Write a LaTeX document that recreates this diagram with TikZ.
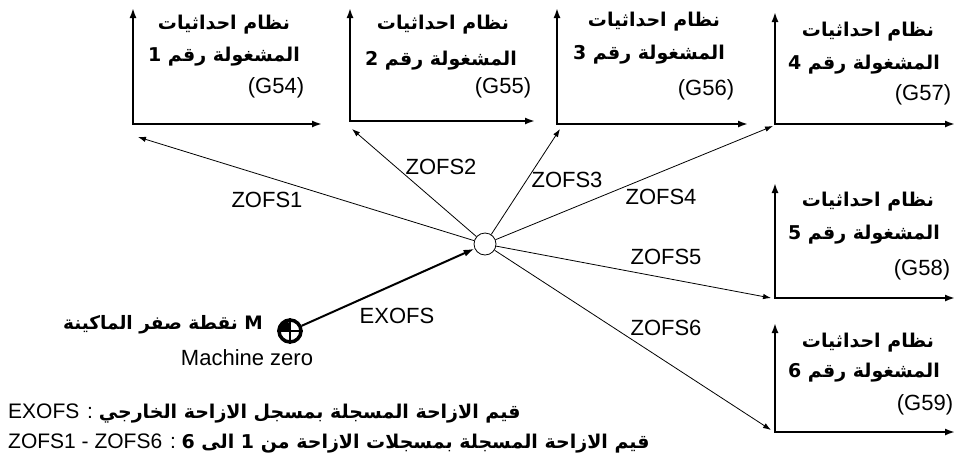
\documentclass[tikz,border=0pt]{standalone}
\usepackage{fontspec}
\setmainfont{Liberation Sans}
\newfontfamily\arabicfont[Script=Arabic]{DejaVu Sans}
\TeXXeTstate=1
\usetikzlibrary{arrows.meta}
\tikzset{
    every picture/.style={line join=miter},
    axes/.style={{Latex[length=10pt,width=7pt]}-{Latex[length=10pt,width=7pt]},
      line width=1.8pt},
    offset/.style={-{Latex[length=8pt,width=5.5pt]},line width=0.8pt},
    extoffset/.style={-{Latex[length=11pt,width=7pt]},line width=2pt},
    hub/.style={circle,draw,line width=0.8pt,fill=white,minimum size=22pt,
      inner sep=0pt},
    zeromark/.style={circle,draw,line width=3.5pt,minimum size=22pt,inner sep=0pt},
    wcstitle/.style={font=\arabicfont\bfseries\fontsize{19}{22}\selectfont,
      inner sep=0pt},
    gcode/.style={font=\fontsize{22}{26}\selectfont,inner sep=0pt},
    offlabel/.style={font=\fontsize{22}{26}\selectfont,inner sep=0pt},
    notetext/.style={font=\fontsize{21}{24}\selectfont,inner sep=0pt,anchor=west}
}

\begin{document}
\begin{tikzpicture}[x=1pt,y=-1pt]
  \useasboundingbox (0,0) rectangle (957,464);

  % workpiece frames
  \draw[axes] (133,8) |- (322,124);   \coordinate (o1) at (138,137);
  \draw[axes] (350,8) |- (535,121);   \coordinate (o2) at (352,129);
  \draw[axes] (557,8) |- (748,124);   \coordinate (o3) at (560,129);
  \draw[axes] (775,12) |- (955,124);  \coordinate (o4) at (773,126);
  \draw[axes] (775,183) |- (955,298); \coordinate (o5) at (771,298);
  \draw[axes] (775,323) |- (955,432); \coordinate (o6) at (771,430);

  \node[wcstitle] (t1a) at (224,25) {\beginR نظام احداثيات\endR};
  \node[wcstitle] (t1b) at (224,57) {\beginR المشغولة رقم 1\endR};
  \node[gcode] (g1) at (276,88) {(G54)};
  \node[wcstitle] (t2a) at (443,25) {\beginR نظام احداثيات\endR};
  \node[wcstitle] (t2b) at (441,61) {\beginR المشغولة رقم 2\endR};
  \node[gcode] (g2) at (503,88) {(G55)};
  \node[wcstitle] (t3a) at (654,22) {\beginR نظام احداثيات\endR};
  \node[wcstitle] (t3b) at (649,55) {\beginR المشغولة رقم 3\endR};
  \node[gcode] (g3) at (706,90) {(G56)};
  \node[wcstitle] (t4a) at (868,32) {\beginR نظام احداثيات\endR};
  \node[wcstitle] (t4b) at (864,65) {\beginR المشغولة رقم 4\endR};
  \node[gcode] (g4) at (923,95) {(G57)};
  \node[wcstitle] (t5a) at (868,202) {\beginR نظام احداثيات\endR};
  \node[wcstitle] (t5b) at (864,235) {\beginR المشغولة رقم 5\endR};
  \node[gcode] (g5) at (922,270) {(G58)};
  \node[wcstitle] (t6a) at (868,343) {\beginR نظام احداثيات\endR};
  \node[wcstitle] (t6b) at (864,373) {\beginR المشغولة رقم 6\endR};
  \node[gcode] (g6) at (925,405) {(G59)};

  % offsets from the common point
  \node[hub] (hub) at (485,244) {};
  \draw[offset] (hub) -- (o1); \draw[offset] (hub) -- (o2);
  \draw[offset] (hub) -- (o3); \draw[offset] (hub) -- (o4);
  \draw[offset] (hub) -- (o5); \draw[offset] (hub) -- (o6);
  \node[offlabel] (z1) at (267,200) {ZOFS1};
  \node[offlabel] (z2) at (441,167) {ZOFS2};
  \node[offlabel] (z3) at (567,180) {ZOFS3};
  \node[offlabel] (z4) at (661,197) {ZOFS4};
  \node[offlabel] (z5) at (666,257) {ZOFS5};
  \node[offlabel] (z6) at (666,328) {ZOFS6};

  \node[zeromark] (mz) at (290,331) {};
  \fill (mz.center) -- (mz.west) arc[start angle=180,end angle=90,radius=11pt] -- cycle;
  \draw[line width=1.5pt] (mz.north) -- (mz.south) (mz.west) -- (mz.east);
  \draw[extoffset] (mz) -- (hub);
  \node[offlabel] (ex) at (397,316) {EXOFS};
  \node[wcstitle,anchor=east,font=\arabicfont\bfseries\fontsize{18.5}{22}\selectfont]
    (mzar) at (263,325) {\beginR M نقطة صفر الماكينة\endR};
  \node[offlabel] (mzen) at (247,358) {Machine zero};

  \node[notetext] (n1) at (8,413)
    {\beginR{\arabicfont\bfseries\fontsize{19}{22}\selectfont قيم الازاحة المسجلة بمسجل الازاحة الخارجي} : \beginL EXOFS\endL\endR};
  \node[notetext] (n2) at (8,443)
    {\beginR{\arabicfont\bfseries\fontsize{19}{22}\selectfont قيم الازاحة المسجلة بمسجلات الازاحة من 1 الى 6} : \beginL ZOFS1 - ZOFS6\endL\endR};
\end{tikzpicture}
\end{document}
